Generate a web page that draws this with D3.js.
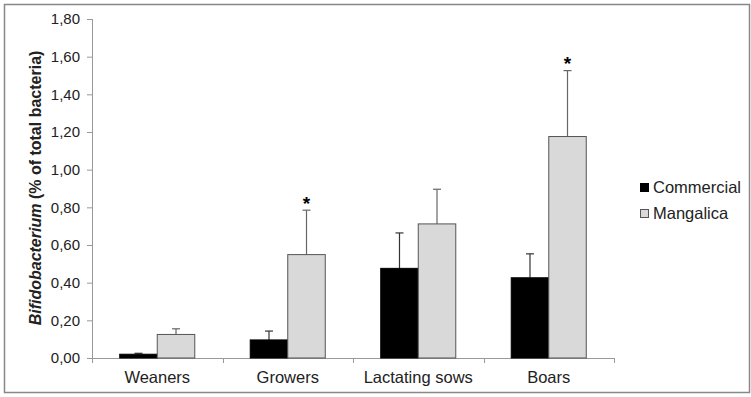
<!DOCTYPE html>
<html>
<head>
<meta charset="utf-8">
<script src="https://cdn.jsdelivr.net/npm/d3@7"></script>
<style>
body { margin: 0; background: #fff; }
text { font-family: "Liberation Sans", Arial, sans-serif; }
</style>
</head>
<body>
<script>
var categories = ["Weaners", "Growers", "Lactating sows", "Boars"];
var seriesNames = ["Commercial", "Mangalica"];
var commercial = [0.02, 0.096, 0.476, 0.426];
var commercialErr = [0.005, 0.047, 0.188, 0.127];
var mangalica = [0.125, 0.549, 0.712, 1.176];
var mangalicaErr = [0.03, 0.236, 0.184, 0.35];
var significant = [false, true, false, true];
var yTicks = [0, 0.2, 0.4, 0.6, 0.8, 1.0, 1.2, 1.4, 1.6, 1.8];

var W = 751, H = 397;
var margin = {top: 19, left: 92, right: 137, bottom: 39};
var width = W - margin.left - margin.right;
var height = H - margin.top - margin.bottom;
var colors = ["#000000", "#d9d9d9"];

var svg = d3.select("body").append("svg")
	.attr("width", W)
	.attr("height", H);

svg.append("rect")
	.attr("x", 4.5).attr("y", 4.5)
	.attr("width", W - 6).attr("height", H - 9)
	.attr("fill", "none")
	.attr("stroke", "#888")
	.attr("stroke-width", 1.5);

var g = svg.append("g")
	.attr("transform", "translate(" + margin.left + "," + margin.top + ")");

var x = d3.scaleBand()
	.domain(categories)
	.range([0, width])
	.paddingInner(0)
	.paddingOuter(0);

var xs = d3.scaleBand()
	.domain(seriesNames)
	.range([x.bandwidth() * 0.2125, x.bandwidth() * 0.7875]);

var y = d3.scaleLinear()
	.domain([0, 1.8])
	.range([height, 0]);

// y axis
var yAxis = d3.axisLeft(y)
	.tickValues(yTicks)
	.tickSize(5)
	.tickFormat(function(d) { return d3.format(".2f")(d).replace(".", ","); });

var ya = g.append("g").call(yAxis);
ya.select(".domain").attr("stroke", "#999").attr("d", "M0.5,0V" + (height + 5));
ya.selectAll(".tick line").attr("stroke", "#999");
ya.selectAll(".tick text")
	.attr("font-size", "15px")
	.attr("fill", "#222")
	.attr("x", -12);

// x axis
g.append("line")
	.attr("x1", 0).attr("x2", width)
	.attr("y1", height + 0.5).attr("y2", height + 0.5)
	.attr("stroke", "#999");

var bounds = categories.map(function(c) { return x(c); }).concat([width]);
g.selectAll(".xtick").data(bounds).enter().append("line")
	.attr("x1", function(d) { return Math.round(d) + 0.5; })
	.attr("x2", function(d) { return Math.round(d) + 0.5; })
	.attr("y1", height).attr("y2", height + 5)
	.attr("stroke", "#999");

g.selectAll(".xlabel").data(categories).enter().append("text")
	.attr("x", function(d) { return x(d) + x.bandwidth() / 2; })
	.attr("y", height + 25)
	.attr("text-anchor", "middle")
	.attr("font-size", "16.5px")
	.attr("fill", "#222")
	.text(function(d) { return d; });

// bars
var rows = categories.map(function(c, i) {
	return [
		{cat: c, s: seriesNames[0], v: commercial[i], e: commercialErr[i], col: colors[0]},
		{cat: c, s: seriesNames[1], v: mangalica[i], e: mangalicaErr[i], col: colors[1]}
	];
});
var flat = [].concat.apply([], rows);

// error bars
g.selectAll(".err").data(flat).enter().append("line")
	.attr("x1", function(d) { return x(d.cat) + xs(d.s) + xs.bandwidth() / 2; })
	.attr("x2", function(d) { return x(d.cat) + xs(d.s) + xs.bandwidth() / 2; })
	.attr("y1", function(d) { return y(d.v); })
	.attr("y2", function(d) { return y(d.v + d.e); })
	.attr("stroke", function(d) { return d.col === colors[0] ? "#333" : "#666"; })
	.attr("stroke-width", 1.2);

g.selectAll(".cap").data(flat).enter().append("line")
	.attr("x1", function(d) { return x(d.cat) + xs(d.s) + xs.bandwidth() / 2 - 4; })
	.attr("x2", function(d) { return x(d.cat) + xs(d.s) + xs.bandwidth() / 2 + 4; })
	.attr("y1", function(d) { return y(d.v + d.e); })
	.attr("y2", function(d) { return y(d.v + d.e); })
	.attr("stroke", function(d) { return d.col === colors[0] ? "#333" : "#666"; })
	.attr("stroke-width", 1.2);

g.selectAll(".bar").data(flat).enter().append("rect")
	.attr("x", function(d) { return x(d.cat) + xs(d.s); })
	.attr("y", function(d) { return y(d.v); })
	.attr("width", xs.bandwidth())
	.attr("height", function(d) { return height - y(d.v); })
	.attr("fill", function(d) { return d.col; })
	.attr("stroke", function(d) { return d.col === colors[0] ? "#000" : "#555"; })
	.attr("stroke-width", 1);

// significance stars
g.selectAll(".star").data(categories.filter(function(c, i) { return significant[i]; })).enter()
	.append("text")
	.attr("x", function(d) { return x(d) + xs(seriesNames[1]) + xs.bandwidth() / 2; })
	.attr("y", function(d) {
		var i = categories.indexOf(d);
		return y(mangalica[i] + mangalicaErr[i]) - 2;
	})
	.attr("text-anchor", "middle")
	.attr("font-size", "19px")
	.attr("font-weight", "bold")
	.attr("dy", "0.35em")
	.attr("transform", "translate(0,-5)")
	.text("*");

// y axis label
var yl = svg.append("text")
	.attr("transform", "translate(41," + 188 + ") rotate(-90)")
	.attr("text-anchor", "middle")
	.attr("font-size", "16px")
	.attr("font-weight", "bold")
	.attr("fill", "#222");
yl.append("tspan").attr("font-style", "italic").text("Bifidobacterium");
yl.append("tspan").text(" (% of total bacteria)");

// legend
var legend = svg.append("g").attr("transform", "translate(640,183)");
seriesNames.forEach(function(s, i) {
	legend.append("rect")
		.attr("x", 0.5).attr("y", i * 26 + 0.5)
		.attr("width", 8).attr("height", 8)
		.attr("fill", colors[i])
		.attr("stroke", i === 0 ? "#000" : "#555");
	legend.append("text")
		.attr("x", 13).attr("y", i * 26 + 9.5)
		.attr("font-size", "16.5px")
		.attr("fill", "#222")
		.text(s);
});
</script>
</body>
</html>
